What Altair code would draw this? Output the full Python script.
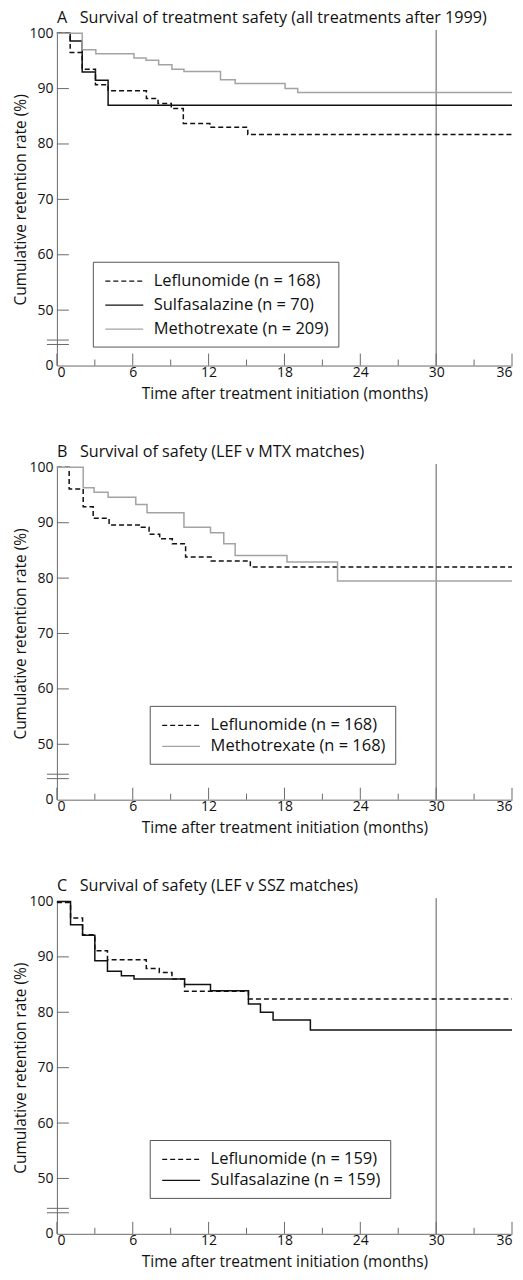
import altair as alt
import pandas as pd

FONT = "Open Sans"

# ---- axis tick data ----
major_months = [0, 6, 12, 18, 24, 30, 36]
minor_months = [3, 9, 15, 21, 27, 33]
y_tick_vals = [40, 50, 60, 70, 80, 90, 100]   # 40 is drawn as the broken-axis "0"
y_inner_ticks = [50, 60, 70, 80, 90, 100]
break_marks = [43.8, 44.6]
ref_month = [30]

# ---- Panel A: all treatments after 1999 ----
a_lef_t = [0, 1.05, 2.0, 3.05, 4.05, 7.08, 8.0, 9.05, 10.0, 12.1, 15.1, 36]
a_lef_v = [100, 96.5, 93.5, 90.7, 89.6, 88.2, 87.3, 86.4, 83.7, 83.0, 81.7, 81.7]
a_ssz_t = [0, 1.05, 2.0, 3.05, 4.05, 36]
a_ssz_v = [100, 98.6, 93.0, 91.5, 87.0, 87.0]
a_mtx_t = [0, 2.0, 3.08, 6.1, 7.05, 8.05, 9.1, 10.05, 12.94, 14.1, 18.05, 19.05, 36]
a_mtx_v = [100, 97.0, 96.3, 95.5, 95.1, 94.3, 93.5, 93.1, 91.6, 90.9, 90.0, 89.3, 89.3]

# ---- Panel B: LEF v MTX matches ----
b_lef_t = [0, 0.97, 2.08, 2.87, 4.13, 6.68, 7.29, 8.13, 9.13, 10.18, 12.2, 15.3, 36]
b_lef_v = [100, 96.1, 92.9, 90.8, 89.6, 89.2, 87.9, 87.1, 86.2, 83.8, 83.1, 82.0, 82.0]
b_mtx_t = [0, 2.08, 2.94, 4.05, 6.24, 7.13, 10.05, 12.15, 13.2, 14.1, 18.2, 22.2, 36]
b_mtx_v = [100, 96.3, 95.5, 94.6, 93.3, 91.8, 89.2, 88.2, 86.2, 84.1, 82.9, 79.5, 79.5]

# ---- Panel C: LEF v SSZ matches ----
c_lef_t = [0, 1.08, 2.03, 3.0, 4.0, 7.07, 8.1, 9.1, 10.1, 15.15, 36]
c_lef_v = [99.8, 97.0, 94.0, 91.1, 89.5, 87.9, 87.2, 86.0, 83.8, 82.4, 82.4]
c_ssz_t = [0, 1.08, 2.03, 3.0, 4.0, 5.1, 6.1, 10.1, 12.15, 15.15, 16.1, 17.1, 20.05, 36]
c_ssz_v = [100, 95.8, 93.9, 89.3, 87.4, 86.6, 86.0, 85.0, 83.9, 81.5, 80.0, 78.6, 76.8, 76.8]

titles = [
    "A\u00a0\u00a0\u00a0Survival of treatment safety (all treatments after 1999)",
    "B\u00a0\u00a0\u00a0Survival of safety (LEF v MTX matches)",
    "C\u00a0\u00a0\u00a0Survival of safety (LEF v SSZ matches)",
]

LEF_STYLE = ("#111111", [5, 3])
SSZ_STYLE = ("#111111", [1, 0])
MTX_STYLE = ("#a3a3a3", [1, 0])

panels = [
    (titles[0], [("Leflunomide (n = 168)", a_lef_t, a_lef_v, LEF_STYLE),
                 ("Sulfasalazine (n = 70)", a_ssz_t, a_ssz_v, SSZ_STYLE),
                 ("Methotrexate (n = 209)", a_mtx_t, a_mtx_v, MTX_STYLE)], 36, 229, 5),
    (titles[1], [("Leflunomide (n = 168)", b_lef_t, b_lef_v, LEF_STYLE),
                 ("Methotrexate (n = 168)", b_mtx_t, b_mtx_v, MTX_STYLE)], 93, 239, 2),
    (titles[2], [("Leflunomide (n = 159)", c_lef_t, c_lef_v, LEF_STYLE),
                 ("Sulfasalazine (n = 159)", c_ssz_t, c_ssz_v, SSZ_STYLE)], 93, 239, 2),
]

W, H = 456, 333
AXIS_COLOR = "#6a6a6a"

xscale = alt.Scale(domain=[0, 36], nice=False, zero=False)
yscale = alt.Scale(domain=[40, 100], nice=False, zero=False)


def make_panel(title, series, lx, ly, rowpad):
    rows = []
    for name, ts, vs, _ in series:
        for t, v in zip(ts, vs):
            rows.append({"series": name, "t": t, "v": v})
    df = pd.DataFrame(rows)
    names = [s[0] for s in series]
    colors = [s[3][0] for s in series]
    dashes = [s[3][1] for s in series]

    legend = alt.Legend(
        orient="none", legendX=lx, legendY=ly, title=None,
        strokeColor="#555555", padding=9, fillColor="white",
        symbolType="M-2,0H2", symbolSize=361, symbolStrokeWidth=1.3,
        symbolOffset=12,
        labelFont=FONT, labelFontSize=16.5, labelColor="#111111",
        labelOffset=19, rowPadding=rowpad, labelLimit=400,
    )

    lines = alt.Chart(df).mark_line(interpolate="step-after", strokeWidth=1.5).encode(
        x=alt.X("t:Q", scale=xscale,
                axis=alt.Axis(values=major_months, ticks=False, labelPadding=0,
                              title="Time after treatment initiation (months)",
                              titlePadding=7, grid=False)),
        y=alt.Y("v:Q", scale=yscale,
                axis=alt.Axis(values=y_tick_vals, ticks=False, labelPadding=4,
                              labelExpr="datum.value == 40 ? '0' : datum.label",
                              title="Cumulative retention rate (%)",
                              titlePadding=0, grid=False)),
        color=alt.Color("series:N", scale=alt.Scale(domain=names, range=colors), legend=legend),
        strokeDash=alt.StrokeDash("series:N", scale=alt.Scale(domain=names, range=dashes), legend=legend),
    )

    ref = alt.Chart(pd.DataFrame({"m": ref_month})).mark_rule(
        color="#5a5a5a", strokeWidth=1).encode(
        x=alt.X("m:Q", scale=xscale), y=alt.datum(40, scale=yscale), y2=alt.datum(100.6))

    xmaj = alt.Chart(pd.DataFrame({"m": major_months})).mark_rule(
        color=AXIS_COLOR, strokeWidth=1).encode(
        x=alt.X("m:Q", scale=xscale), y=alt.value(H), y2=alt.value(H - 12))
    xmin = alt.Chart(pd.DataFrame({"m": minor_months})).mark_rule(
        color=AXIS_COLOR, strokeWidth=1).encode(
        x=alt.X("m:Q", scale=xscale), y=alt.value(H), y2=alt.value(H - 6))
    ytk = alt.Chart(pd.DataFrame({"y": y_inner_ticks})).mark_rule(
        color=AXIS_COLOR, strokeWidth=1).encode(
        y=alt.Y("y:Q", scale=yscale), x=alt.value(0), x2=alt.value(12))
    brk = alt.Chart(pd.DataFrame({"y": break_marks})).mark_rule(
        color=AXIS_COLOR, strokeWidth=1).encode(
        y=alt.Y("y:Q", scale=yscale), x=alt.value(-10), x2=alt.value(12))

    return alt.layer(ref, xmaj, xmin, ytk, brk, lines).properties(
        width=W, height=H,
        title=alt.TitleParams(title, anchor="start", frame="group", font=FONT, fontSize=16.2,
                              fontWeight="normal", color="#111111", offset=0),
    )


chart = alt.vconcat(*[make_panel(*p) for p in panels], spacing=41).resolve_scale(
    color="independent", strokeDash="independent"
).resolve_legend(
    color="independent", strokeDash="independent"
).properties(
    padding={"left": 5, "top": 0, "right": 0, "bottom": 0}
).configure_view(stroke=None).configure_axis(
    domainColor=AXIS_COLOR, domainWidth=1,
    labelFont=FONT, labelFontSize=14, labelColor="#111111",
    titleFont=FONT, titleFontSize=15.5, titleFontWeight="normal", titleColor="#111111",
).configure_concat(spacing=41)

chart.save("out.html", embed_options={"renderer": "svg", "actions": False})
